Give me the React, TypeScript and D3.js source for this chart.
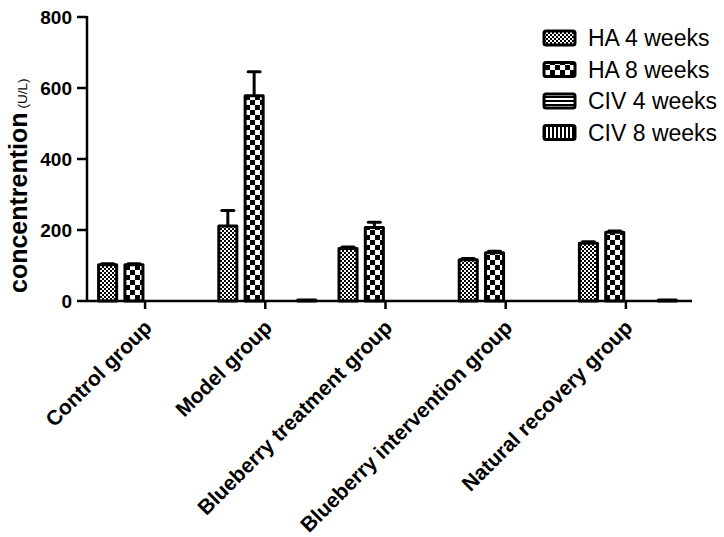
import React from 'react';
import * as d3 from 'd3';

const groups = [
  'Control group',
  'Model group',
  'Blueberry treatment group',
  'Blueberry intervention group',
  'Natural recovery group',
];
const seriesNames = ['HA 4 weeks', 'HA 8 weeks', 'CIV 4 weeks', 'CIV 8 weeks'];
const ha4 = [102, 211, 148, 116, 163];
const ha4Err = [3, 44, 4, 4, 4];
const ha8 = [102, 578, 207, 136, 194];
const ha8Err = [3, 68, 15, 4, 3];
const civ4 = [0, 0, 0, 0, 0];
const civ4Err = [0, 0, 0, 0, 0];
const civ8 = [0, 3, 0, 0, 3];
const civ8Err = [0, 0, 0, 0, 0];
const yTicks = [0, 200, 400, 600, 800];

const seriesValues = [ha4, ha8, civ4, civ8];
const seriesErrors = [ha4Err, ha8Err, civ4Err, civ8Err];
const patternIds = ['pHA4', 'pHA8', 'pCIV4', 'pCIV8'];

const font = '"Liberation Sans", Arial, Helvetica, sans-serif';

export default function App() {
  const width = 724;
  const height = 537;
  const plot = { left: 87, right: 688, top: 17, bottom: 301 };

  const x0 = d3.scaleBand<string>().domain(groups).range([plot.left, plot.right]);
  const y = d3.scaleLinear().domain([0, 800]).range([plot.bottom, plot.top]);
  const x1 = d3
    .scaleBand<string>()
    .domain(seriesNames)
    .range([-50, 50])
    .paddingInner(0.2);

  const sw = 3; // bar outline width

  return (
    <svg
      width={width}
      height={height}
      style={{ position: 'absolute', left: 0, top: 0, background: '#fff' }}
      fontFamily={font}
    >
      <defs>
        <pattern id="pHA4" width={4} height={4} patternUnits="userSpaceOnUse">
          <rect width={4} height={4} fill="#fff" />
          <rect width={2} height={2} fill="#000" />
          <rect x={2} y={2} width={2} height={2} fill="#000" />
        </pattern>
        <pattern id="pHA8" width={10} height={10} patternUnits="userSpaceOnUse">
          <rect width={10} height={10} fill="#fff" />
          <rect width={5} height={5} fill="#000" />
          <rect x={5} y={5} width={5} height={5} fill="#000" />
        </pattern>
        <pattern id="pCIV4" width={4} height={4} patternUnits="userSpaceOnUse">
          <rect width={4} height={4} fill="#fff" />
          <rect width={4} height={2} fill="#000" />
        </pattern>
        <pattern id="pCIV8" width={4} height={4} patternUnits="userSpaceOnUse">
          <rect width={4} height={4} fill="#fff" />
          <rect width={2} height={4} fill="#000" />
        </pattern>
      </defs>

      {/* bars */}
      {groups.map((g, gi) => {
        const cx = x0(g)! + x0.bandwidth() / 2;
        return (
          <g key={g}>
            {seriesNames.map((s, si) => {
              const v = seriesValues[si][gi];
              if (v <= 0) return null;
              const e = seriesErrors[si][gi];
              const bx = cx + x1(s)!;
              const bw = x1.bandwidth();
              const top = y(v);
              const mid = bx + bw / 2;
              return (
                <g key={s}>
                  {e > 0 && (
                    <g stroke="#000" strokeWidth={3}>
                      <line x1={mid} x2={mid} y1={top} y2={y(v + e)} />
                      <line x1={mid - 6} x2={mid + 6} y1={y(v + e)} y2={y(v + e)} strokeLinecap="round" />
                    </g>
                  )}
                  <rect
                    x={bx + sw / 2}
                    y={top}
                    width={bw - sw}
                    height={Math.max(y(0) - top, 0.5)}
                    fill={`url(#${patternIds[si]})`}
                    stroke="#000"
                    strokeWidth={sw}
                    strokeLinejoin="round"
                  />
                </g>
              );
            })}
          </g>
        );
      })}

      {/* y axis */}
      <line x1={plot.left} x2={plot.left} y1={y(800) - 1} y2={y(0) + 1} stroke="#000" strokeWidth={2.5} />
      {yTicks.map((t) => (
        <g key={t}>
          <line x1={plot.left - 10} x2={plot.left} y1={y(t)} y2={y(t)} stroke="#000" strokeWidth={2.5} />
          <text
            x={plot.left - 15}
            y={y(t)}
            dy="0.36em"
            textAnchor="end"
            fontSize={19}
            fontWeight="bold"
          >
            {t}
          </text>
        </g>
      ))}
      <text
        transform={`translate(27,${y(0) - 8}) rotate(-90)`}
        fontSize={25}
        fontWeight="bold"
      >
        concentrention
        <tspan fontSize={13.5} fontWeight="normal" dx={4}>(U/L)</tspan>
      </text>

      {/* x axis */}
      <line x1={plot.left} x2={plot.right + 4} y1={y(0)} y2={y(0)} stroke="#000" strokeWidth={2.5} />
      {groups.map((g) => {
        const tx = x0(g)! + x0.bandwidth() / 2 - 2;
        return (
          <g key={g}>
            <line x1={tx} x2={tx} y1={y(0)} y2={y(0) + 8} stroke="#000" strokeWidth={2.5} />
            <text
              transform={`translate(${tx + 8},${y(0) + 28}) rotate(-45)`}
              textAnchor="end"
              fontSize={21}
              fontWeight="bold"
            >
              {g}
            </text>
          </g>
        );
      })}

      {/* legend */}
      {seriesNames.map((s, si) => {
        const ly = 38 + si * 31.5;
        return (
          <g key={s}>
            <rect
              x={544}
              y={ly - 7}
              width={31}
              height={14}
              rx={2}
              fill={`url(#${patternIds[si]})`}
              stroke="#000"
              strokeWidth={3}
            />
            <text x={588} y={ly} dy="0.36em" fontSize={23}>
              {s}
            </text>
          </g>
        );
      })}
    </svg>
  );
}
